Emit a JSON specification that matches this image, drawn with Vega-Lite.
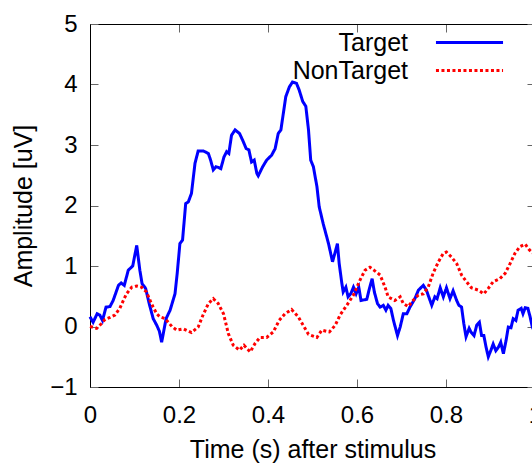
{
  "$schema": "https://vega.github.io/schema/vega-lite/v6.json",
  "width": 445,
  "height": 363,
  "autosize": {"type": "none"},
  "padding": {"left": 90, "top": 24, "right": -3, "bottom": 77},
  "background": "white",
  "config": {
    "view": {"stroke": null},
    "axis": {
      "grid": false,
      "domainColor": "black",
      "domainWidth": 1,
      "tickColor": "#666666",
      "tickSize": -8,
      "tickWidth": 1,
      "labelFlush": false,
      "labelFont": "Liberation Sans",
      "labelFontSize": 24,
      "labelColor": "black",
      "titleFont": "Liberation Sans",
      "titleFontSize": 25,
      "titleFontWeight": "normal",
      "titleColor": "black"
    }
  },
  "datasets": {
    "erp": [
      {"t": 0.000, "v": 0.16, "s": "Target"},
      {"t": 0.007, "v": 0.07, "s": "Target"},
      {"t": 0.016, "v": 0.21, "s": "Target"},
      {"t": 0.022, "v": 0.19, "s": "Target"},
      {"t": 0.028, "v": 0.10, "s": "Target"},
      {"t": 0.036, "v": 0.32, "s": "Target"},
      {"t": 0.045, "v": 0.33, "s": "Target"},
      {"t": 0.052, "v": 0.43, "s": "Target"},
      {"t": 0.064, "v": 0.68, "s": "Target"},
      {"t": 0.070, "v": 0.72, "s": "Target"},
      {"t": 0.077, "v": 0.68, "s": "Target"},
      {"t": 0.086, "v": 0.93, "s": "Target"},
      {"t": 0.096, "v": 1.00, "s": "Target"},
      {"t": 0.105, "v": 1.34, "s": "Target"},
      {"t": 0.112, "v": 0.93, "s": "Target"},
      {"t": 0.117, "v": 0.71, "s": "Target"},
      {"t": 0.125, "v": 0.63, "s": "Target"},
      {"t": 0.133, "v": 0.38, "s": "Target"},
      {"t": 0.142, "v": 0.13, "s": "Target"},
      {"t": 0.150, "v": 0.02, "s": "Target"},
      {"t": 0.156, "v": -0.08, "s": "Target"},
      {"t": 0.161, "v": -0.26, "s": "Target"},
      {"t": 0.171, "v": 0.13, "s": "Target"},
      {"t": 0.180, "v": 0.27, "s": "Target"},
      {"t": 0.191, "v": 0.54, "s": "Target"},
      {"t": 0.196, "v": 0.88, "s": "Target"},
      {"t": 0.202, "v": 1.37, "s": "Target"},
      {"t": 0.208, "v": 1.43, "s": "Target"},
      {"t": 0.215, "v": 2.03, "s": "Target"},
      {"t": 0.221, "v": 2.06, "s": "Target"},
      {"t": 0.228, "v": 2.20, "s": "Target"},
      {"t": 0.236, "v": 2.70, "s": "Target"},
      {"t": 0.243, "v": 2.90, "s": "Target"},
      {"t": 0.255, "v": 2.90, "s": "Target"},
      {"t": 0.266, "v": 2.86, "s": "Target"},
      {"t": 0.271, "v": 2.75, "s": "Target"},
      {"t": 0.277, "v": 2.59, "s": "Target"},
      {"t": 0.283, "v": 2.64, "s": "Target"},
      {"t": 0.288, "v": 2.63, "s": "Target"},
      {"t": 0.294, "v": 2.61, "s": "Target"},
      {"t": 0.301, "v": 2.80, "s": "Target"},
      {"t": 0.307, "v": 2.89, "s": "Target"},
      {"t": 0.312, "v": 2.86, "s": "Target"},
      {"t": 0.318, "v": 3.16, "s": "Target"},
      {"t": 0.326, "v": 3.25, "s": "Target"},
      {"t": 0.336, "v": 3.19, "s": "Target"},
      {"t": 0.343, "v": 3.08, "s": "Target"},
      {"t": 0.351, "v": 2.94, "s": "Target"},
      {"t": 0.357, "v": 2.92, "s": "Target"},
      {"t": 0.363, "v": 2.72, "s": "Target"},
      {"t": 0.369, "v": 2.75, "s": "Target"},
      {"t": 0.375, "v": 2.53, "s": "Target"},
      {"t": 0.378, "v": 2.49, "s": "Target"},
      {"t": 0.388, "v": 2.64, "s": "Target"},
      {"t": 0.397, "v": 2.75, "s": "Target"},
      {"t": 0.408, "v": 2.83, "s": "Target"},
      {"t": 0.416, "v": 2.94, "s": "Target"},
      {"t": 0.423, "v": 3.19, "s": "Target"},
      {"t": 0.429, "v": 3.25, "s": "Target"},
      {"t": 0.435, "v": 3.55, "s": "Target"},
      {"t": 0.440, "v": 3.80, "s": "Target"},
      {"t": 0.448, "v": 3.96, "s": "Target"},
      {"t": 0.455, "v": 4.04, "s": "Target"},
      {"t": 0.464, "v": 4.02, "s": "Target"},
      {"t": 0.470, "v": 3.91, "s": "Target"},
      {"t": 0.478, "v": 3.72, "s": "Target"},
      {"t": 0.485, "v": 3.64, "s": "Target"},
      {"t": 0.491, "v": 3.25, "s": "Target"},
      {"t": 0.496, "v": 2.75, "s": "Target"},
      {"t": 0.502, "v": 2.64, "s": "Target"},
      {"t": 0.510, "v": 2.31, "s": "Target"},
      {"t": 0.515, "v": 1.98, "s": "Target"},
      {"t": 0.524, "v": 1.70, "s": "Target"},
      {"t": 0.536, "v": 1.37, "s": "Target"},
      {"t": 0.545, "v": 1.07, "s": "Target"},
      {"t": 0.551, "v": 1.23, "s": "Target"},
      {"t": 0.556, "v": 1.37, "s": "Target"},
      {"t": 0.560, "v": 1.04, "s": "Target"},
      {"t": 0.566, "v": 0.71, "s": "Target"},
      {"t": 0.569, "v": 0.57, "s": "Target"},
      {"t": 0.575, "v": 0.65, "s": "Target"},
      {"t": 0.580, "v": 0.49, "s": "Target"},
      {"t": 0.586, "v": 0.54, "s": "Target"},
      {"t": 0.592, "v": 0.65, "s": "Target"},
      {"t": 0.598, "v": 0.54, "s": "Target"},
      {"t": 0.604, "v": 0.65, "s": "Target"},
      {"t": 0.609, "v": 0.43, "s": "Target"},
      {"t": 0.622, "v": 0.45, "s": "Target"},
      {"t": 0.628, "v": 0.63, "s": "Target"},
      {"t": 0.634, "v": 0.79, "s": "Target"},
      {"t": 0.639, "v": 0.57, "s": "Target"},
      {"t": 0.646, "v": 0.38, "s": "Target"},
      {"t": 0.652, "v": 0.32, "s": "Target"},
      {"t": 0.659, "v": 0.35, "s": "Target"},
      {"t": 0.665, "v": 0.27, "s": "Target"},
      {"t": 0.670, "v": 0.35, "s": "Target"},
      {"t": 0.676, "v": 0.30, "s": "Target"},
      {"t": 0.682, "v": 0.10, "s": "Target"},
      {"t": 0.691, "v": -0.15, "s": "Target"},
      {"t": 0.697, "v": -0.01, "s": "Target"},
      {"t": 0.704, "v": 0.21, "s": "Target"},
      {"t": 0.712, "v": 0.21, "s": "Target"},
      {"t": 0.719, "v": 0.32, "s": "Target"},
      {"t": 0.730, "v": 0.46, "s": "Target"},
      {"t": 0.738, "v": 0.60, "s": "Target"},
      {"t": 0.749, "v": 0.68, "s": "Target"},
      {"t": 0.756, "v": 0.60, "s": "Target"},
      {"t": 0.768, "v": 0.35, "s": "Target"},
      {"t": 0.775, "v": 0.49, "s": "Target"},
      {"t": 0.780, "v": 0.46, "s": "Target"},
      {"t": 0.787, "v": 0.64, "s": "Target"},
      {"t": 0.794, "v": 0.49, "s": "Target"},
      {"t": 0.801, "v": 0.64, "s": "Target"},
      {"t": 0.809, "v": 0.46, "s": "Target"},
      {"t": 0.816, "v": 0.59, "s": "Target"},
      {"t": 0.824, "v": 0.43, "s": "Target"},
      {"t": 0.829, "v": 0.35, "s": "Target"},
      {"t": 0.835, "v": 0.32, "s": "Target"},
      {"t": 0.840, "v": 0.05, "s": "Target"},
      {"t": 0.845, "v": -0.17, "s": "Target"},
      {"t": 0.852, "v": -0.03, "s": "Target"},
      {"t": 0.856, "v": -0.09, "s": "Target"},
      {"t": 0.863, "v": -0.15, "s": "Target"},
      {"t": 0.869, "v": 0.02, "s": "Target"},
      {"t": 0.875, "v": 0.07, "s": "Target"},
      {"t": 0.880, "v": -0.15, "s": "Target"},
      {"t": 0.885, "v": -0.15, "s": "Target"},
      {"t": 0.890, "v": -0.34, "s": "Target"},
      {"t": 0.895, "v": -0.50, "s": "Target"},
      {"t": 0.901, "v": -0.39, "s": "Target"},
      {"t": 0.906, "v": -0.29, "s": "Target"},
      {"t": 0.912, "v": -0.40, "s": "Target"},
      {"t": 0.918, "v": -0.34, "s": "Target"},
      {"t": 0.923, "v": -0.26, "s": "Target"},
      {"t": 0.929, "v": -0.45, "s": "Target"},
      {"t": 0.935, "v": -0.23, "s": "Target"},
      {"t": 0.940, "v": -0.01, "s": "Target"},
      {"t": 0.946, "v": -0.02, "s": "Target"},
      {"t": 0.951, "v": 0.13, "s": "Target"},
      {"t": 0.957, "v": 0.10, "s": "Target"},
      {"t": 0.962, "v": 0.27, "s": "Target"},
      {"t": 0.969, "v": 0.30, "s": "Target"},
      {"t": 0.973, "v": 0.21, "s": "Target"},
      {"t": 0.978, "v": 0.31, "s": "Target"},
      {"t": 0.984, "v": 0.30, "s": "Target"},
      {"t": 0.989, "v": 0.16, "s": "Target"},
      {"t": 0.994, "v": -0.01, "s": "Target"},
      {"t": 1.000, "v": -0.10, "s": "Target"},
      {"t": 0.000, "v": 0.00, "s": "NonTarget"},
      {"t": 0.015, "v": -0.03, "s": "NonTarget"},
      {"t": 0.026, "v": 0.05, "s": "NonTarget"},
      {"t": 0.034, "v": 0.12, "s": "NonTarget"},
      {"t": 0.045, "v": 0.15, "s": "NonTarget"},
      {"t": 0.056, "v": 0.19, "s": "NonTarget"},
      {"t": 0.067, "v": 0.30, "s": "NonTarget"},
      {"t": 0.075, "v": 0.43, "s": "NonTarget"},
      {"t": 0.082, "v": 0.54, "s": "NonTarget"},
      {"t": 0.094, "v": 0.65, "s": "NonTarget"},
      {"t": 0.105, "v": 0.67, "s": "NonTarget"},
      {"t": 0.116, "v": 0.65, "s": "NonTarget"},
      {"t": 0.127, "v": 0.57, "s": "NonTarget"},
      {"t": 0.135, "v": 0.43, "s": "NonTarget"},
      {"t": 0.142, "v": 0.32, "s": "NonTarget"},
      {"t": 0.150, "v": 0.21, "s": "NonTarget"},
      {"t": 0.157, "v": 0.16, "s": "NonTarget"},
      {"t": 0.169, "v": 0.13, "s": "NonTarget"},
      {"t": 0.184, "v": 0.00, "s": "NonTarget"},
      {"t": 0.195, "v": -0.06, "s": "NonTarget"},
      {"t": 0.210, "v": -0.04, "s": "NonTarget"},
      {"t": 0.228, "v": -0.10, "s": "NonTarget"},
      {"t": 0.243, "v": -0.01, "s": "NonTarget"},
      {"t": 0.254, "v": 0.19, "s": "NonTarget"},
      {"t": 0.266, "v": 0.38, "s": "NonTarget"},
      {"t": 0.277, "v": 0.46, "s": "NonTarget"},
      {"t": 0.288, "v": 0.38, "s": "NonTarget"},
      {"t": 0.300, "v": 0.21, "s": "NonTarget"},
      {"t": 0.311, "v": -0.12, "s": "NonTarget"},
      {"t": 0.322, "v": -0.31, "s": "NonTarget"},
      {"t": 0.336, "v": -0.39, "s": "NonTarget"},
      {"t": 0.346, "v": -0.31, "s": "NonTarget"},
      {"t": 0.360, "v": -0.42, "s": "NonTarget"},
      {"t": 0.371, "v": -0.28, "s": "NonTarget"},
      {"t": 0.382, "v": -0.18, "s": "NonTarget"},
      {"t": 0.397, "v": -0.18, "s": "NonTarget"},
      {"t": 0.412, "v": -0.09, "s": "NonTarget"},
      {"t": 0.425, "v": 0.10, "s": "NonTarget"},
      {"t": 0.438, "v": 0.21, "s": "NonTarget"},
      {"t": 0.453, "v": 0.28, "s": "NonTarget"},
      {"t": 0.468, "v": 0.16, "s": "NonTarget"},
      {"t": 0.479, "v": 0.02, "s": "NonTarget"},
      {"t": 0.491, "v": -0.13, "s": "NonTarget"},
      {"t": 0.510, "v": -0.18, "s": "NonTarget"},
      {"t": 0.521, "v": -0.06, "s": "NonTarget"},
      {"t": 0.538, "v": -0.09, "s": "NonTarget"},
      {"t": 0.551, "v": 0.02, "s": "NonTarget"},
      {"t": 0.562, "v": 0.19, "s": "NonTarget"},
      {"t": 0.577, "v": 0.35, "s": "NonTarget"},
      {"t": 0.592, "v": 0.52, "s": "NonTarget"},
      {"t": 0.607, "v": 0.77, "s": "NonTarget"},
      {"t": 0.618, "v": 0.93, "s": "NonTarget"},
      {"t": 0.629, "v": 0.98, "s": "NonTarget"},
      {"t": 0.640, "v": 0.92, "s": "NonTarget"},
      {"t": 0.652, "v": 0.85, "s": "NonTarget"},
      {"t": 0.663, "v": 0.65, "s": "NonTarget"},
      {"t": 0.670, "v": 0.49, "s": "NonTarget"},
      {"t": 0.685, "v": 0.43, "s": "NonTarget"},
      {"t": 0.697, "v": 0.49, "s": "NonTarget"},
      {"t": 0.704, "v": 0.38, "s": "NonTarget"},
      {"t": 0.715, "v": 0.33, "s": "NonTarget"},
      {"t": 0.726, "v": 0.43, "s": "NonTarget"},
      {"t": 0.738, "v": 0.52, "s": "NonTarget"},
      {"t": 0.749, "v": 0.54, "s": "NonTarget"},
      {"t": 0.760, "v": 0.65, "s": "NonTarget"},
      {"t": 0.771, "v": 0.88, "s": "NonTarget"},
      {"t": 0.783, "v": 1.07, "s": "NonTarget"},
      {"t": 0.794, "v": 1.21, "s": "NonTarget"},
      {"t": 0.801, "v": 1.23, "s": "NonTarget"},
      {"t": 0.812, "v": 1.15, "s": "NonTarget"},
      {"t": 0.824, "v": 1.04, "s": "NonTarget"},
      {"t": 0.835, "v": 0.85, "s": "NonTarget"},
      {"t": 0.846, "v": 0.74, "s": "NonTarget"},
      {"t": 0.857, "v": 0.64, "s": "NonTarget"},
      {"t": 0.873, "v": 0.60, "s": "NonTarget"},
      {"t": 0.885, "v": 0.54, "s": "NonTarget"},
      {"t": 0.895, "v": 0.63, "s": "NonTarget"},
      {"t": 0.906, "v": 0.74, "s": "NonTarget"},
      {"t": 0.921, "v": 0.79, "s": "NonTarget"},
      {"t": 0.933, "v": 0.88, "s": "NonTarget"},
      {"t": 0.944, "v": 1.04, "s": "NonTarget"},
      {"t": 0.955, "v": 1.21, "s": "NonTarget"},
      {"t": 0.966, "v": 1.32, "s": "NonTarget"},
      {"t": 0.978, "v": 1.36, "s": "NonTarget"},
      {"t": 0.987, "v": 1.27, "s": "NonTarget"},
      {"t": 1.000, "v": 1.18, "s": "NonTarget"}
    ]
  },
  "data": {"name": "erp"},
  "layer": [
    {
      "mark": {"type": "line", "strokeWidth": 3},
      "encoding": {
        "x": {
          "field": "t", "type": "quantitative",
          "scale": {"domain": [0, 1], "nice": false, "zero": false},
          "axis": {"orient": "bottom", "title": "Time (s) after stimulus", "values": [0, 0.2, 0.4, 0.6, 0.8, 1], "format": "~g", "labelPadding": 24, "titlePadding": 10}
        },
        "y": {
          "field": "v", "type": "quantitative",
          "scale": {"domain": [-1, 5], "nice": false, "zero": false},
          "axis": {"orient": "left", "title": "Amplitude [uV]", "values": [-1, 0, 1, 2, 3, 4, 5], "labelPadding": 21, "titlePadding": 13}
        },
        "color": {
          "field": "s", "type": "nominal",
          "scale": {"domain": ["Target", "NonTarget"], "range": ["#0000ff", "#ff0000"]},
          "legend": {"title": null, "orient": "none", "legendX": 367, "legendY": 6, "padding": 0, "symbolType": "M-5,0H5", "symbolSize": 180, "symbolStrokeWidth": 3, "labelAlign": "right", "labelOffset": -74, "labelFont": "Liberation Sans", "labelFontSize": 25, "labelColor": "black", "rowPadding": 2, "labelLimit": 0}
        },
        "strokeDash": {
          "field": "s", "type": "nominal",
          "scale": {"domain": ["Target", "NonTarget"], "range": [[1, 0], [3, 2.5]]},
          "legend": {"title": null, "orient": "none", "legendX": 367, "legendY": 6, "padding": 0, "symbolType": "M-5,0H5", "symbolSize": 180, "symbolStrokeWidth": 3, "labelAlign": "right", "labelOffset": -74, "labelFont": "Liberation Sans", "labelFontSize": 25, "labelColor": "black", "rowPadding": 2, "labelLimit": 0}
        }
      }
    },
    {
      "mark": {"type": "line", "opacity": 0},
      "encoding": {
        "x": {
          "field": "t", "type": "quantitative",
          "axis": {"orient": "top", "title": null, "labels": false, "values": [0, 0.2, 0.4, 0.6, 0.8, 1]}
        },
        "y": {
          "field": "v", "type": "quantitative",
          "axis": {"orient": "right", "title": null, "labels": false, "values": [-1, 0, 1, 2, 3, 4, 5]}
        }
      }
    }
  ],
  "resolve": {"axis": {"x": "independent", "y": "independent"}}
}
